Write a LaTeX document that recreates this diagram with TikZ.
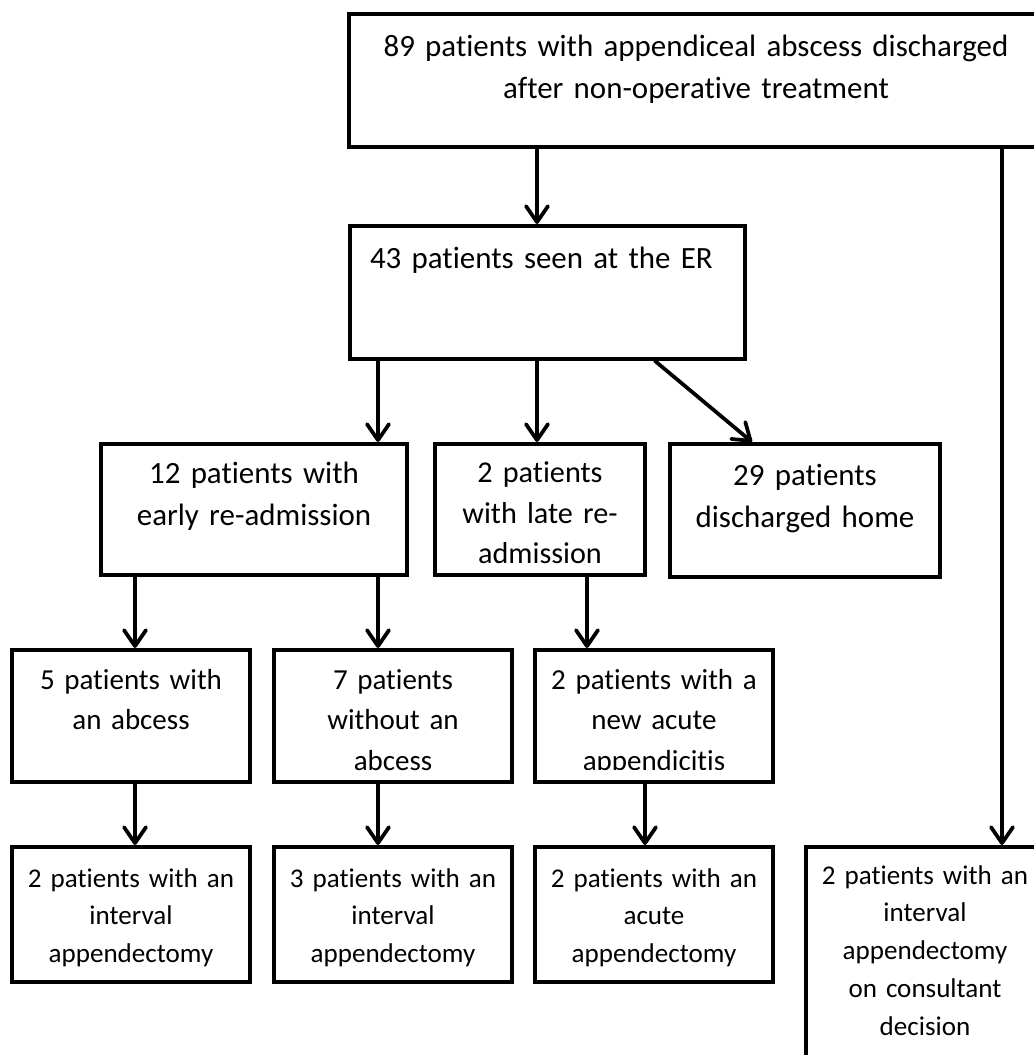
\documentclass[tikz,border=0pt]{standalone}
\usepackage{fontspec}
\setmainfont{Carlito}[Ligatures=NoCommon]
\usetikzlibrary{arrows.meta}

\begin{document}
\begin{tikzpicture}[x=0.02cm,y=-0.02cm,
    box/.style={draw,line width=0.08cm,inner sep=0pt,anchor=north,align=center,font=\fontsize{17.6pt}{23.9pt}\selectfont},
    rowmid/.style={box,text width=4.76cm,text height=0.78cm,text depth=1.86cm,font=\fontsize{16.5pt}{23.3pt}\selectfont},
    rowlow/.style={box,text width=4.76cm,text height=0.8cm,text depth=1.9cm,font=\fontsize{15.4pt}{21.6pt}\selectfont},
    arr/.style={line width=0.075cm,line cap=round,-{Straight Barb[length=0.32cm,width=0.44cm,line cap=round,line join=round]}}]
    \useasboundingbox (0,0) rectangle (1034,1055);
    \clip (0,0) rectangle (1034,1055);
    \fill[white] (0,0) rectangle (1034,1055);

    \node[box,text width=13.88cm,text height=0.86cm,text depth=1.8cm] (dis) at (696,12) {89 patients with appendiceal abscess discharged\\after non-operative treatment};
    \node[box,align=left,text width=7.1cm,inner xsep=0.4cm,text height=0.86cm,text depth=1.8cm] (er) at (547.5,224) {43 patients seen at the ER};

    \node[box,text width=6.12cm,text height=0.8cm,text depth=1.82cm] (early) at (254,442) {12 patients with\\early re-admission};
    \node[box,text width=4.2cm,text height=0.78cm,text depth=1.84cm,font=\fontsize{17.2pt}{23pt}\selectfont] (late) at (540,442) {2 patients\\with late re-\\admission};
    \node[box,text width=5.4cm,text height=0.84cm,text depth=1.82cm] (home) at (805,442) {29 patients\\discharged home};

    \node[rowmid] (abc) at (131,648) {5 patients with\\an abcess};
    \node[rowmid] (noabc) at (393,648) {7 patients\\without an\\abcess};
    \node[rowmid] (acute) at (654,648) {2 patients with a\\new acute\\appendicitis};
    \fill[white] ([shift={(0.1cm,0.1cm)}]acute.south west) rectangle ([shift={(-0.1cm,0.27cm)}]acute.south east);

    \node[rowlow] (intA) at (131,845) {2 patients with an\\interval\\appendectomy};
    \node[rowlow] (intB) at (393,845) {3 patients with an\\interval\\appendectomy};
    \node[rowlow] (acApp) at (654,845) {2 patients with an\\acute\\appendectomy};
    \node[rowlow,text height=0.74cm,text depth=6cm] (cons) at (925,845) {2 patients with an\\interval\\appendectomy\\on consultant\\decision};

    \coordinate (lnD) at (135,0);
    \coordinate (lnE) at (378,0);
    \coordinate (lnMid) at (537,0);
    \coordinate (lnF) at (587,0);
    \coordinate (lnI) at (645,0);
    \coordinate (homeA) at (655,0);
    \coordinate (homeB) at (752,0);
    \coordinate (lnCons) at (1002,0);

    \draw[arr] (dis.south -| lnMid) -- (er.north -| lnMid);
    \draw[arr] (dis.south -| lnCons) -- (cons.north -| lnCons);
    \draw[arr] (er.south -| lnE) -- (early.north -| lnE);
    \draw[arr] (er.south -| lnMid) -- (late.north -| lnMid);
    \draw[arr] (er.south -| homeA) -- (home.north -| homeB);
    \draw[arr] (early.south -| lnD) -- (abc.north -| lnD);
    \draw[arr] (early.south -| lnE) -- (noabc.north -| lnE);
    \draw[arr] (late.south -| lnF) -- (acute.north -| lnF);
    \draw[arr] (abc.south -| lnD) -- (intA.north -| lnD);
    \draw[arr] (noabc.south -| lnE) -- (intB.north -| lnE);
    \draw[arr] (acute.south -| lnI) -- (acApp.north -| lnI);
\end{tikzpicture}
\end{document}
